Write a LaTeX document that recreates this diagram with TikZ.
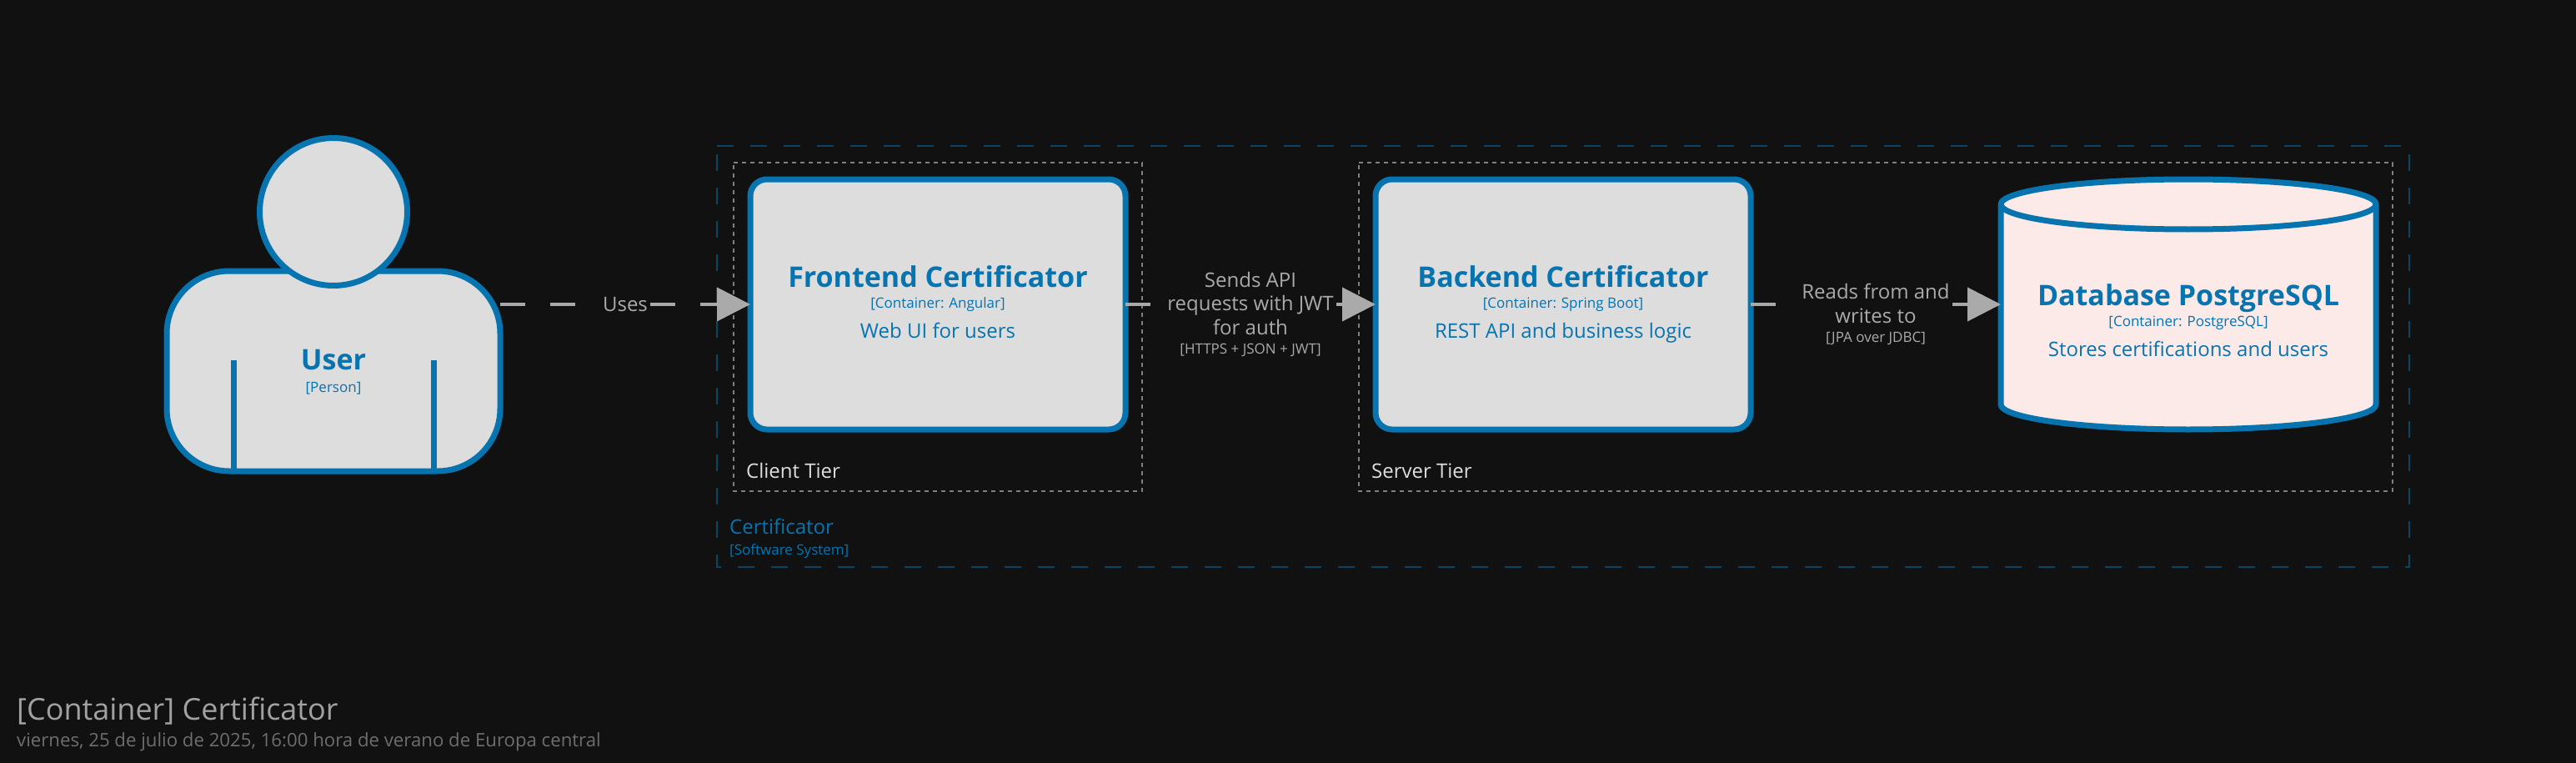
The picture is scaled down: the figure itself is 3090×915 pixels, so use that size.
\documentclass[tikz,border=0pt]{standalone}
\usepackage{fontspec}
\setmainfont{Open Sans}
\usetikzlibrary{arrows.meta, positioning, calc}
\definecolor{canvasdark}{HTML}{111111}
\definecolor{boxgrey}{HTML}{DDDDDD}
\definecolor{c4blue}{HTML}{0773AF}
\definecolor{systemline}{HTML}{0A4566}
\definecolor{tierline}{HTML}{808080}
\definecolor{linkgrey}{HTML}{AAAAAA}
\definecolor{dbfill}{HTML}{FBEAE8}
\newcommand{\boxtext}[3]{{\fontsize{34}{29}\selectfont\bfseries #1}\\[-4pt]{\fontsize{17}{29}\selectfont #2}\\[7pt]{#3\rule[-6pt]{0pt}{6pt}}}
\tikzset{
  c4node/.style={draw=c4blue, fill=boxgrey, line width=7pt, outer sep=0pt, text=c4blue, align=center,
    font=\fontsize{24}{29}\selectfont},
  container/.style={c4node, rounded corners=20pt, minimum width=450pt, minimum height=300pt},
  personbody/.style={c4node, rounded corners=75pt, minimum width=400pt, minimum height=240pt},
  personhead/.style={c4node, circle, minimum size=177pt, inner sep=0pt},
  personarm/.style={draw=c4blue, line width=7pt},
  dbshape/.style={draw=c4blue, fill=dbfill, line width=7pt, line join=round},
  nodetext/.style={text=c4blue, align=center, font=\fontsize{24}{29}\selectfont},
  systembound/.style={draw=systemline, line width=2pt, dash pattern=on 20pt off 20pt},
  tierbound/.style={draw=tierline, line width=2pt, dash pattern=on 5pt off 5pt},
  tiertitle/.style={anchor=base west, inner sep=0pt, text=boxgrey, font=\fontsize{24}{29}\selectfont},
  link/.style={draw=linkgrey, line width=4pt, dash pattern=on 30pt off 30pt,
    -{Triangle[length=40pt, width=40pt]}},
  linktext/.style={fill=canvasdark, text=linkgrey, align=center, inner sep=3pt,
    font=\fontsize{24}{28.5}\selectfont},
}
\begin{document}
\begin{tikzpicture}[x=1pt, y=-1pt]
  \fill[canvasdark] (0,0) rectangle (3090,915);
  \useasboundingbox (0,0) rectangle (3090,915);

  \draw[systembound] (860,175) -- (2890,175) -- (2890,680) -- (860,680) -- cycle;
  \draw[tierbound] (880,195) -- (1370,195) -- (1370,589) -- (880,589) -- cycle;
  \draw[tierbound] (1630,195) -- (2870,195) -- (2870,589) -- (1630,589) -- cycle;
  \node[tiertitle] (clienttitle) at (895,573) {Client Tier};
  \node[tiertitle] (servertitle) at (1645,573) {Server Tier};
  \node[anchor=base west, inner sep=0pt, text=c4blue, font=\fontsize{24}{29}\selectfont] (systemtitle) at (875,640) {Certificator};
  \node[anchor=base west, inner sep=0pt, text=c4blue, font=\fontsize{17}{22}\selectfont] (systemmeta) at (875,665) {[Software System]};

  \node[personbody] (user) at (400,445) {};
  \node[personhead] (userhead) at (400,254) {};
  \draw[personarm] (280,432) -- (280,565);
  \draw[personarm] (520,432) -- (520,565);
  \node[nodetext, anchor=base] (usertitle) at (400,443) {\fontsize{34}{29}\selectfont\bfseries User};
  \node[nodetext, anchor=base, font=\fontsize{17}{22}\selectfont] (usermeta) at (400,470) {[Person]};

  \node[container] (frontend) at (1125,365) {\boxtext{Frontend Certificator}{[Container: Angular]}{Web UI for users}};
  \node[container] (backend) [right=300pt of frontend] {\boxtext{Backend Certificator}{[Container: Spring Boot]}{REST API and business logic}};

  \node[minimum width=450pt, minimum height=300pt, outer sep=0pt] (database) [right=300pt of backend] {};
  \draw[dbshape] ($(database.north west)+(0,30)$) arc[start angle=180, end angle=360, x radius=225, y radius=30]
    -- ($(database.south east)+(0,-30)$) arc[start angle=0, end angle=180, x radius=225, y radius=30] -- cycle;
  \draw[dbshape, fill=none] ($(database.north west)+(0,30)$) arc[start angle=180, end angle=0, x radius=225, y radius=30];
  \node[nodetext, yshift=-22pt] (databasetext) at (database.center) {\boxtext{Database PostgreSQL}{[Container: PostgreSQL]}{Stores certifications and users}};

  \draw[link] (frontend.west -| user.east) -- (frontend.west)
    node[midway, linktext] (usesl) {Uses};
  \draw[link] (frontend.east) -- (backend.west)
    node[midway, linktext, yshift=-12pt] (sendsl) {Sends API\\requests with JWT\\for auth\\[-5pt]{\fontsize{17}{22}\selectfont [HTTPS + JSON + JWT]}};
  \draw[link] (backend.east) -- (database.west)
    node[midway, linktext, yshift=-12pt] (readsl) {Reads from and\\writes to\\[-5pt]{\fontsize{17}{22}\selectfont [JPA over JDBC]}};

  \node[anchor=base west, inner sep=0pt, text=linkgrey!95!black, font=\fontsize{36}{44}\selectfont] (viewtitle) at (20,863) {[Container] Certificator};
  \node[anchor=base west, inner sep=0pt, text=black!50!boxgrey, font=\fontsize{22.2}{27}\selectfont] (viewdate) at (20,895) {viernes, 25 de julio de 2025, 16:00 hora de verano de Europa central};
\end{tikzpicture}
\end{document}
